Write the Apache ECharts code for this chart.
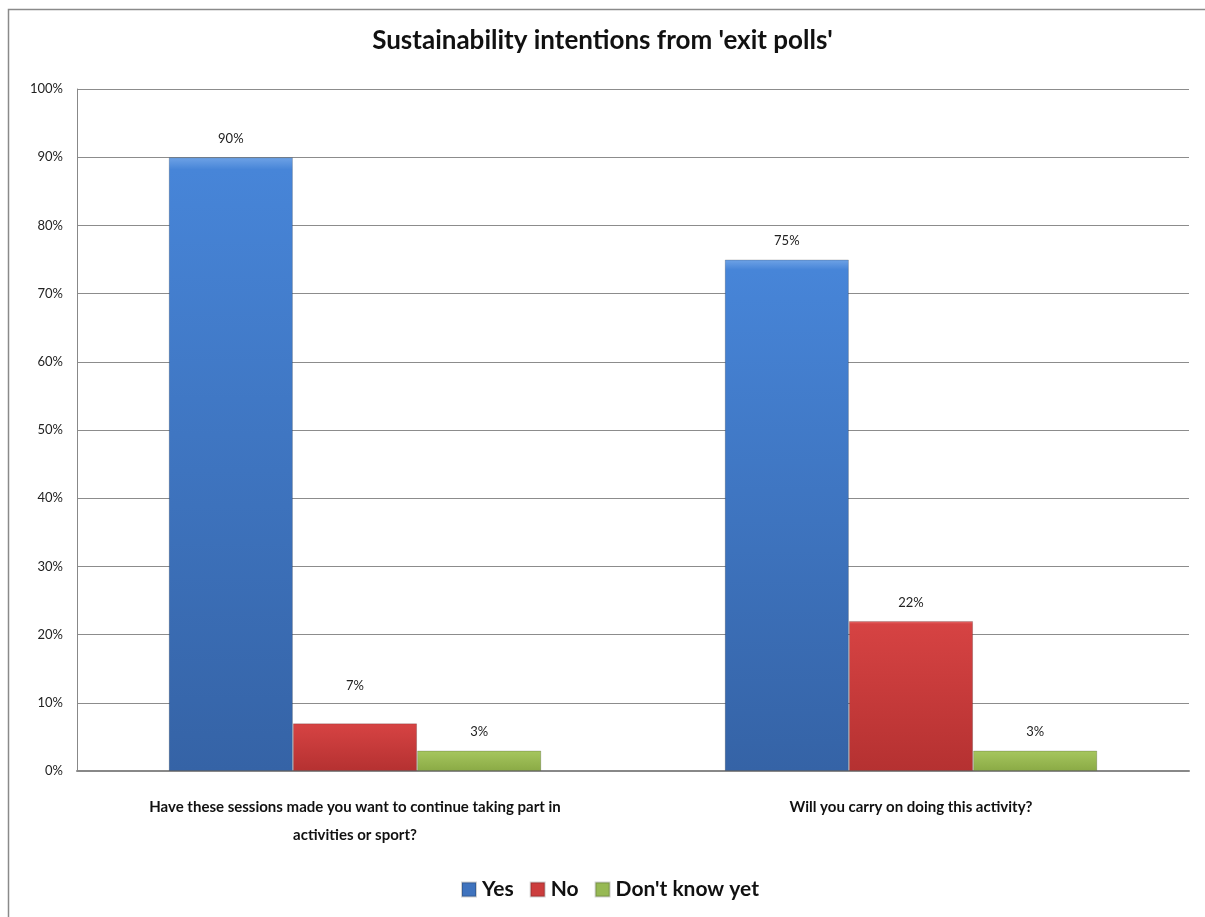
<!DOCTYPE html>
<html>
<head>
<meta charset="utf-8">
<script src="https://cdn.jsdelivr.net/npm/echarts@6/dist/echarts.min.js"></script>
<style>
  html, body { margin: 0; padding: 0; background: #fff; }
  #chart { width: 1205px; height: 917px; }
</style>
</head>
<body>
<div id="chart"></div>
<script>
// Survey questions (x-axis categories)
const categories = [
  'Have these sessions made you want to continue taking part in\nactivities or sport?',
  'Will you carry on doing this activity?'
];
// Share of respondents per answer, in percent
const yesValues = [90, 75];
const noValues = [7, 22];
const dontKnowValues = [3, 3];
const seriesNames = ['Yes', 'No', "Don't know yet"];

const FONT = 'Lato, "Open Sans", sans-serif';

function bevel(top, mid, bottom) {
  return new echarts.graphic.LinearGradient(0, 0, 0, 1, [
    { offset: 0, color: top },
    { offset: 0.02, color: mid },
    { offset: 1, color: bottom }
  ]);
}

const colors = [
  bevel('#6fa3e6', '#4785d8', '#3563a6'),
  bevel('#e87070', '#d64343', '#b53131'),
  bevel('#c2dc86', '#a6c65e', '#8aaa45')
];
const legendColors = ['#3f73be', '#cc3d3d', '#97b954'];

const labelStyle = {
  show: true,
  position: 'top',
  distance: 12,
  formatter: '{c}%',
  fontFamily: FONT,
  fontSize: 13,
  color: '#222'
};

// labelLift: extra spacing for individual value labels that sit higher
function barSeries(name, values, idx, labelLift) {
  return {
    name: name,
    type: 'bar',
    data: values.map((v, i) => {
      const item = { value: v };
      if (labelLift && labelLift[i]) {
        item.label = { distance: labelStyle.distance + labelLift[i] };
      }
      return item;
    }),
    barGap: '0%',
    barCategoryGap: '33%',
    itemStyle: { color: colors[idx], borderColor: 'rgba(0,0,0,0.18)', borderWidth: 1 },
    label: labelStyle
  };
}

const chart = echarts.init(document.getElementById('chart'), null, { renderer: 'canvas' });
chart.setOption({
  animation: false,
  backgroundColor: '#fff',
  title: {
    text: "Sustainability intentions from 'exit polls'",
    left: 'center',
    top: 23,
    textStyle: { fontFamily: FONT, fontWeight: 'bold', fontSize: 26, color: '#111' }
  },
  graphic: [{
    type: 'rect',
    shape: { x: 8.5, y: 9.5, width: 1230, height: 940 },
    style: { fill: 'none', stroke: '#8a8a8a', lineWidth: 1.5 },
    silent: true
  }],
  legend: {
    bottom: 12,
    left: 456,
    itemWidth: 14,
    itemHeight: 14,
    itemGap: 16,
    icon: 'rect',
    data: seriesNames.map((n, i) => ({ name: n, itemStyle: { color: legendColors[i] } })),
    textStyle: { fontFamily: FONT, fontWeight: 'bold', fontSize: 21, color: '#111', padding: [0, 0, 0, 1] }
  },
  grid: { left: 77, right: 16, top: 89, bottom: 146 },
  xAxis: {
    type: 'category',
    data: categories,
    axisLine: { lineStyle: { color: '#888', width: 2 } },
    axisTick: { show: false },
    axisLabel: {
      margin: 22,
      fontFamily: FONT,
      fontWeight: 'bold',
      fontSize: 15,
      lineHeight: 28,
      color: '#111',
      interval: 0
    }
  },
  yAxis: {
    type: 'value',
    min: 0,
    max: 100,
    interval: 10,
    axisLine: { show: true, lineStyle: { color: '#888' } },
    axisTick: { show: false },
    splitLine: { lineStyle: { color: '#8c8c8c', width: 1 } },
    axisLabel: {
      formatter: '{value}%',
      fontFamily: FONT,
      fontSize: 13,
      color: '#222',
      margin: 14
    }
  },
  series: [
    barSeries(seriesNames[0], yesValues, 0),
    barSeries(seriesNames[1], noValues, 1, [19, 0]),
    barSeries(seriesNames[2], dontKnowValues, 2)
  ]
});
</script>
</body>
</html>
